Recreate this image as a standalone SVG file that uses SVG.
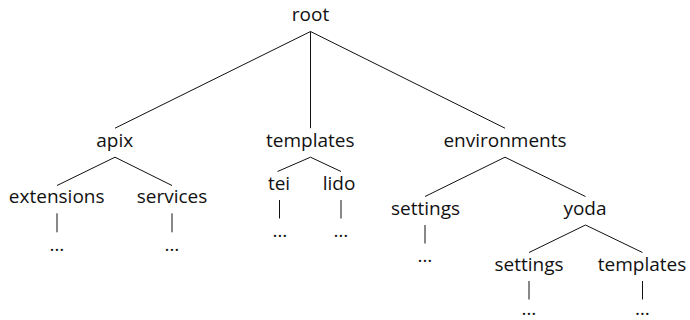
<svg xmlns="http://www.w3.org/2000/svg" width="690" height="320" viewBox="0 0 690 320">
<style>
text{font-family:"Open Sans","Noto Sans","DejaVu Sans",sans-serif;font-size:19px;fill:#111;text-anchor:middle}
.e line{stroke:#111;stroke-width:1;fill:none}
</style>
<rect width="690" height="320" fill="#fff"/>
<g class="e" id="connectors">
<line x1="310.5" y1="31.5" x2="115" y2="128.2"/>
<line x1="310.5" y1="31.5" x2="310.5" y2="128.2"/>
<line x1="310.5" y1="31.5" x2="505" y2="128.2"/>
<line x1="115" y1="157.2" x2="57" y2="185.5"/>
<line x1="115" y1="157.2" x2="172" y2="185.5"/>
<line x1="310.5" y1="157.2" x2="277.5" y2="171.5"/>
<line x1="310.5" y1="157.2" x2="341" y2="171.5"/>
<line x1="505" y1="157.2" x2="425" y2="196.5"/>
<line x1="505" y1="157.2" x2="585.5" y2="196.5"/>
<line x1="57" y1="213.3" x2="57" y2="232.3"/>
<line x1="172" y1="213.3" x2="172" y2="232.3"/>
<line x1="279.5" y1="200" x2="279.5" y2="218.5"/>
<line x1="341" y1="200" x2="341" y2="218.5"/>
<line x1="425" y1="225" x2="425" y2="243.5"/>
<line x1="585.5" y1="225" x2="529" y2="252.5"/>
<line x1="585.5" y1="225" x2="642.5" y2="252.5"/>
<line x1="529" y1="281" x2="529" y2="299.5"/>
<line x1="642.5" y1="281" x2="642.5" y2="299.5"/>
</g>
<g id="root"><text x="310.5" y="20.7">root</text></g>
<g id="apix"><text x="114.7" y="146.7">apix</text></g>
<g id="templates"><text x="310.3" y="146.7">templates</text></g>
<g id="environments"><text x="505" y="146.7">environments</text></g>
<g id="extensions"><text x="56.7" y="203.3">extensions</text></g>
<g id="services"><text x="172" y="203.3">services</text></g>
<g id="extensions-dots"><text x="57" y="251">…</text></g>
<g id="services-dots"><text x="172" y="251">…</text></g>
<g id="tei"><text x="279" y="190">tei</text></g>
<g id="lido"><text x="339" y="190">lido</text></g>
<g id="tei-dots"><text x="280" y="237">…</text></g>
<g id="lido-dots"><text x="341" y="237">…</text></g>
<g id="settings"><text x="425.5" y="215">settings</text></g>
<g id="yoda"><text x="585" y="215">yoda</text></g>
<g id="settings-dots"><text x="425" y="262">…</text></g>
<g id="yoda-settings"><text x="529" y="270.7">settings</text></g>
<g id="yoda-templates"><text x="642" y="270.7">templates</text></g>
<g id="yoda-settings-dots"><text x="529" y="315">…</text></g>
<g id="yoda-templates-dots"><text x="642.5" y="315">…</text></g>
</svg>
